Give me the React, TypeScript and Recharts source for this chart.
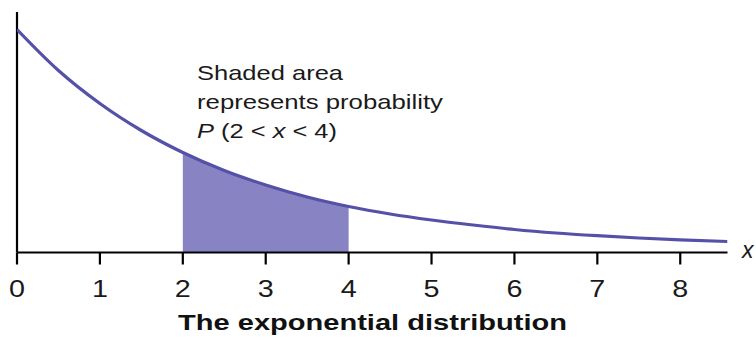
import React from "react";
import { ComposedChart, Line, Area, XAxis, YAxis, ReferenceLine } from "recharts";

// x positions along the distribution
const xValues = [0, 0.5, 1, 1.5, 2, 2.5, 3, 3.5, 4, 4.5, 5, 5.5, 6, 6.5, 7, 7.5, 8, 8.57];
// curve height (arbitrary density units)
const densityValues = [223, 182, 149, 122, 100, 82, 67.5, 55.5, 46, 38.5, 32.5, 27.5, 23, 19.5, 16.8, 14.5, 12.6, 11];
// shaded interval
const shadeFrom = 2;
const shadeTo = 4;
const tickValues = [0, 1, 2, 3, 4, 5, 6, 7, 8];
const titleText = "The exponential distribution";
const noteLines = ["Shaded area", "represents probability"];

const data = xValues.map((x, i) => ({
  x,
  y: densityValues[i],
  shade: x >= shadeFrom && x <= shadeTo ? densityValues[i] : null,
}));

const FONT = "'Liberation Sans', Arial, sans-serif";

const Tick = (props: any) => {
  const { x, payload } = props;
  return (
    <g transform={`translate(${x},297) scale(1.25,1)`}>
      <text x={0} y={0} textAnchor="middle" fontSize={23} fontFamily={FONT} fill="#1a1a1a">
        {payload.value}
      </text>
    </g>
  );
};

export default function App() {
  return (
    <div style={{ position: "absolute", left: 0, top: 0, width: 756, height: 350, background: "#fff" }}>
      <ComposedChart
        width={756}
        height={350}
        data={data}
        margin={{ top: 12, right: 28.5, left: 17, bottom: 0 }}
      >
        <XAxis
          dataKey="x"
          type="number"
          domain={[0, 8.57]}
          ticks={tickValues}
          allowDataOverflow
          height={97.5}
          axisLine={{ stroke: "#000", strokeWidth: 2.2 }}
          tickLine={{ stroke: "#000", strokeWidth: 2.2 }}
          tickSize={12}
          tick={<Tick />}
          interval={0}
        />
        <YAxis type="number" domain={[0, 240.5]} width={0} hide />
        <ReferenceLine x={0} stroke="#000" strokeWidth={2.2} ifOverflow="visible" />
        <Area
          dataKey="shade"
          type="monotone"
          stroke="none"
          fill="#8884c4"
          fillOpacity={1}
          baseValue={0}
          isAnimationActive={false}
          connectNulls={false}
        />
        <Line
          dataKey="y"
          type="monotone"
          stroke="#5651a8"
          strokeWidth={3.2}
          dot={false}
          activeDot={false}
          isAnimationActive={false}
        />
      </ComposedChart>
      <svg
        width={756}
        height={350}
        style={{ position: "absolute", left: 0, top: 0, pointerEvents: "none" }}
      >
        <text x={197} y={80} fontSize={21} fontFamily={FONT} fill="#1a1a1a" textLength={146} lengthAdjust="spacingAndGlyphs">
          {noteLines[0]}
        </text>
        <text x={197} y={109} fontSize={21} fontFamily={FONT} fill="#1a1a1a" textLength={246} lengthAdjust="spacingAndGlyphs">
          {noteLines[1]}
        </text>
        <text x={197} y={138} fontSize={21} fontFamily={FONT} fill="#1a1a1a" textLength={140} lengthAdjust="spacingAndGlyphs">
          <tspan fontStyle="italic">P</tspan>
          <tspan> (2 &lt; </tspan>
          <tspan fontStyle="italic">x</tspan>
          <tspan> &lt; 4)</tspan>
        </text>
        <text x={742} y={258} fontSize={23} fontStyle="italic" fontFamily={FONT} fill="#1a1a1a">
          x
        </text>
        <text x={178} y={330} fontSize={22.5} fontWeight="bold" fontFamily={FONT} fill="#111" textLength={389} lengthAdjust="spacingAndGlyphs">
          {titleText}
        </text>
      </svg>
    </div>
  );
}
